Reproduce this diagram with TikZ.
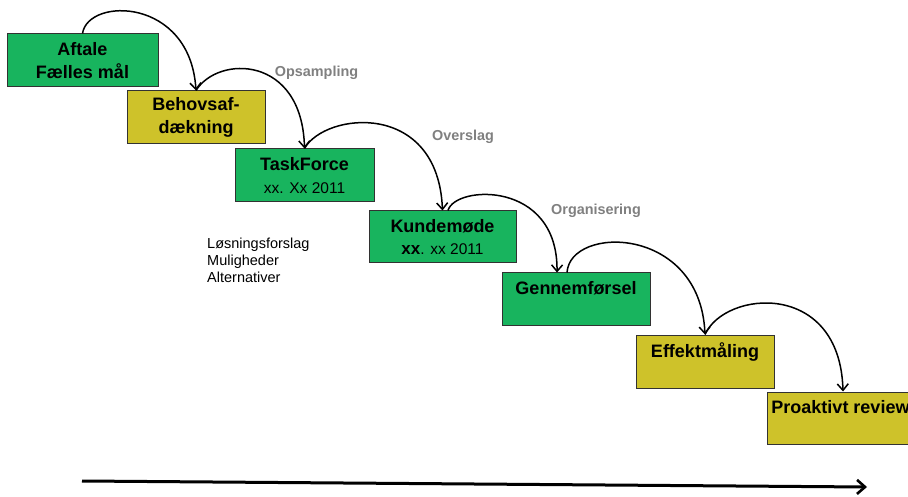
\documentclass[tikz,border=0pt]{standalone}
\usepackage{fontspec}
\setmainfont{Liberation Sans}
\usetikzlibrary{arrows.meta}
\definecolor{boxgreen}{RGB}{24,180,94}
\definecolor{boxyellow}{RGB}{206,194,42}
\definecolor{labelgray}{RGB}{128,128,128}
\definecolor{edgegray}{RGB}{50,50,50}
\tikzset{
  stagebox/.style={draw=edgegray, line width=1pt, inner sep=0pt, align=center,
    font=\fontsize{18}{22.7}\selectfont\bfseries,
    execute at begin node={\rule{0pt}{17pt}}},
  greenbox/.style={stagebox, fill=boxgreen},
  yellowbox/.style={stagebox, fill=boxyellow},
  phaselabel/.style={text=labelgray, inner sep=0pt, anchor=base,
    font=\fontsize{14.4}{17}\selectfont\bfseries},
  flow/.style={line width=1.5pt, -{Straight Barb[length=6.5pt,width=11pt,line width=1.5pt]}},
  timeline/.style={line width=3pt, -{Straight Barb[length=8pt,width=14pt,line width=2.6pt]}},
}
\begin{document}
\begin{tikzpicture}[x=1pt,y=-1pt]
\useasboundingbox (0,0) rectangle (908,497);
\clip (0,0) rectangle (908,497);
\node[greenbox, minimum width=151pt, minimum height=53pt] (A) at (82.5,60.5) {Aftale\\Fælles mål};
\node[yellowbox, minimum width=138pt, minimum height=53pt] (B) at (196,117.5) {Behovsaf-\\dækning};
\node[greenbox, minimum width=139pt, minimum height=53pt] (C) at (304.5,175.5) {TaskForce\\{\fontsize{15.5}{18}\selectfont\mdseries xx. Xx 2011}};
\node[greenbox, minimum width=147pt, minimum height=52pt] (D) at (442.5,237) {Kundemøde\\{\fontsize{17}{18}\selectfont xx}{\fontsize{15.5}{18}\selectfont\mdseries . xx 2011}};
\node[greenbox, minimum width=148pt, minimum height=52pt] (E) at (576,299) {Gennemførsel\\\mbox{}};
\node[yellowbox, minimum width=138pt, minimum height=53pt] (F) at (705,361.5) {Effektmåling\\\mbox{}};
\node[yellowbox, minimum width=147pt, minimum height=52pt] (G) at (840.5,418) {Proaktivt review\\\mbox{}};

\node[phaselabel] (L1) at (316.5,77) {Opsampling};
\node[phaselabel] (L2) at (463,141) {Overslag};
\node[phaselabel] (L3) at (596,215) {Organisering};

\node[inner sep=0pt, anchor=west, align=left, font=\fontsize{14.5}{17}\selectfont] (N) at (207,260)
  {Løsningsforslag\\Muligheder\\Alternativer};

\draw[flow] (A.north) .. controls (88,-3) and (190,-3) .. (B.north);
\draw[flow] (B.north) .. controls (218,55) and (302,55) .. (C.north);
\draw[flow] (C.north) .. controls (325,112) and (438,100) .. (D.north);
\draw[flow] ([xshift=5.5pt]D.north) .. controls (455,185) and (558,180) .. ([xshift=-19pt]E.north);
\draw[flow] ([xshift=-9pt]E.north) .. controls (570,225) and (700,225) .. (F.north);
\draw[flow] (F.north) .. controls (725,290) and (840,280) .. ([xshift=2.5pt]G.north);

\coordinate (T0) at (82,481);
\coordinate (T1) at (867,487);
\draw[timeline] (T0) -- (T1);
\end{tikzpicture}
\end{document}
